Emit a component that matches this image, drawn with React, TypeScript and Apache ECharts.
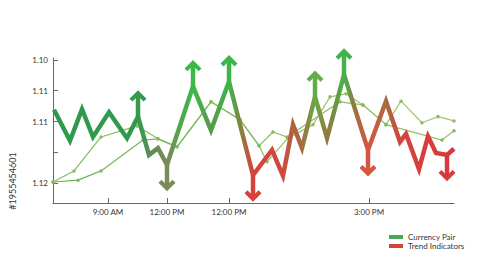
import React, { useEffect, useRef } from "react";
import * as echarts from "echarts";

// ---- data ----
const timeTicks = [55, 114, 176, 316];
const timeLabels = ["9:00 AM", "12:00 PM", "12:00 PM", "3:00 PM"];
const rateTicks = [1.1, 1.105, 1.11, 1.115, 1.12];
const rateLabels = ["1.10", "1.11", "1.11", "", "1.12"];

const pairTimes = [1, 17, 29, 40, 56, 74, 85, 96, 105, 114, 140, 158, 176, 200, 219, 230, 240, 249, 262, 274, 291, 315, 333, 347, 353, 366, 375, 383, 394, 401];
const pairRates = [1.1081, 1.1131, 1.108, 1.1125, 1.1085, 1.1127, 1.1092, 1.1154, 1.1143, 1.117, 1.1043, 1.1114, 1.1035, 1.1187, 1.1146, 1.1188, 1.1105, 1.1143, 1.106, 1.1127, 1.1024, 1.1146, 1.1067, 1.1133, 1.112, 1.1177, 1.1124, 1.1151, 1.1154, 1.1144];

const trendATimes = [0, 21, 48, 84, 105, 124, 158, 187, 206, 214, 235, 260, 277, 293, 310, 333, 348, 369, 385, 401];
const trendARates = [1.1198, 1.118, 1.1125, 1.1107, 1.1128, 1.1141, 1.1068, 1.1097, 1.1139, 1.1165, 1.1127, 1.1105, 1.106, 1.1055, 1.1073, 1.1105, 1.1067, 1.1102, 1.1092, 1.1099];

const trendBTimes = [0, 25, 48, 90, 105, 124, 158, 187, 206, 220, 234, 287, 310, 333, 389, 401];
const trendBRates = [1.1198, 1.1195, 1.118, 1.113, 1.1128, 1.1141, 1.1068, 1.1097, 1.1139, 1.1117, 1.1125, 1.1068, 1.1073, 1.1105, 1.113, 1.1115];

const upSignalTimes = [85, 140, 176, 262, 291];
const downSignalTimes = [114, 200, 315, 394];

// ---- styling ----
const pairStops: [number, string][] = [
  [0, "#2f9a4c"], [84, "#2f9a4c"], [96, "#5a8f55"], [114, "#7a8a58"], [128, "#4fa84b"],
  [140, "#3cb84a"], [158, "#5a9a4a"], [176, "#3cb54a"], [188, "#8a8040"], [200, "#d8413a"],
  [230, "#d04a3a"], [240, "#b0623e"], [249, "#a86a40"], [262, "#64ac48"], [274, "#98763f"],
  [291, "#42b44a"], [303, "#a0703f"], [315, "#d6553f"], [333, "#a86c42"], [347, "#d4453a"],
  [401, "#d8383a"],
];
const T0 = pairTimes[0];
const T1 = pairTimes[pairTimes.length - 1];

function hexToRgb(h: string) {
  const n = parseInt(h.slice(1), 16);
  return [(n >> 16) & 255, (n >> 8) & 255, n & 255];
}
function colorAt(t: number) {
  for (let i = 0; i < pairStops.length - 1; i++) {
    const [a, ca] = pairStops[i];
    const [b, cb] = pairStops[i + 1];
    if (t >= a && t <= b) {
      const f = b === a ? 0 : (t - a) / (b - a);
      const A = hexToRgb(ca), B = hexToRgb(cb);
      const c = A.map((v, k) => Math.round(v + (B[k] - v) * f));
      return `rgb(${c[0]},${c[1]},${c[2]})`;
    }
  }
  return pairStops[pairStops.length - 1][1];
}

export default function App() {
  const ref = useRef<HTMLDivElement>(null);
  useEffect(() => {
    if (!ref.current) return;
    const chart = echarts.init(ref.current, undefined, { renderer: "svg" });
    const font = "Lato, 'Open Sans', sans-serif";
    const pairGradient = new echarts.graphic.LinearGradient(
      0, 0, 1, 0,
      pairStops.map(([t, c]) => ({ offset: Math.max(0, Math.min(1, (t - T0) / (T1 - T0))), color: c }))
    );
    const signalData = [
      ...upSignalTimes.map((t) => [t, pairRates[pairTimes.indexOf(t)], 1]),
      ...downSignalTimes.map((t) => [t, pairRates[pairTimes.indexOf(t)], -1]),
    ];
    chart.setOption({
      animation: false,
      grid: { left: 53, right: 46, top: 58, bottom: 70 },
      xAxis: {
        type: "value",
        min: 0,
        max: 401,
        splitLine: { show: false },
        axisLine: { onZero: false, lineStyle: { color: "#666", width: 1 } },
        axisTick: { inside: true, length: 5, customValues: timeTicks, lineStyle: { color: "#666" } },
        axisLabel: {
          customValues: timeTicks,
          margin: 5,
          fontSize: 8,
          color: "#333",
          fontFamily: font,
          formatter: (v: number) => {
            const i = timeTicks.findIndex((x) => Math.abs(x - v) < 0.5);
            return i >= 0 ? timeLabels[i] : "";
          },
        },
      },
      yAxis: {
        type: "value",
        inverse: true,
        min: 1.0997,
        max: 1.1232,
        splitLine: { show: false },
        axisLine: { show: true, onZero: false, lineStyle: { color: "#666", width: 1 } },
        axisTick: { show: true, inside: true, length: 5, customValues: rateTicks, lineStyle: { color: "#666" } },
        axisLabel: {
          customValues: rateTicks,
          margin: 5,
          fontSize: 8,
          color: "#333",
          fontFamily: font,
          formatter: (v: number) => {
            const i = rateTicks.findIndex((x) => Math.abs(x - v) < 0.0001);
            return i >= 0 ? rateLabels[i] : "";
          },
        },
      },
      legend: {
        orient: "vertical",
        left: 384,
        top: 228,
        itemWidth: 14,
        itemHeight: 4,
        itemGap: 1,
        icon: "rect",
        textStyle: { fontSize: 8, color: "#333", fontFamily: font },
        data: [
          { name: "Currency Pair", itemStyle: { color: "#45a852" } },
          { name: "Trend Indicators", itemStyle: { color: "#d8403a" } },
        ],
      },
      graphic: [
        {
          type: "text",
          x: 12,
          y: 181,
          rotation: Math.PI / 2,
          style: {
            text: "#1955454601",
            fontSize: 9,
            fill: "#333",
            fontFamily: font,
            align: "center",
            verticalAlign: "middle",
          },
        },
      ],
      series: [
        {
          name: "Trend A",
          type: "line",
          data: trendATimes.map((t, i) => [t, trendARates[i]]),
          symbol: "circle",
          symbolSize: 3.5,
          showAllSymbol: true,
          lineStyle: {
            width: 1.2,
            color: new echarts.graphic.LinearGradient(0, 0, 1, 0, [
              { offset: 0, color: "#7cbc5f" },
              { offset: 1, color: "#a9c66f" },
            ]),
          },
          itemStyle: { color: "#8fbf64" },
          z: 2,
        },
        {
          name: "Trend B",
          type: "line",
          data: trendBTimes.map((t, i) => [t, trendBRates[i]]),
          symbol: "circle",
          symbolSize: 3.5,
          showAllSymbol: true,
          lineStyle: {
            width: 1.2,
            color: new echarts.graphic.LinearGradient(0, 0, 1, 0, [
              { offset: 0, color: "#6cb458" },
              { offset: 1, color: "#9cc066" },
            ]),
          },
          itemStyle: { color: "#84b95e" },
          z: 2,
        },
        {
          name: "Currency Pair",
          type: "line",
          data: pairTimes.map((t, i) => [t, pairRates[i]]),
          showSymbol: false,
          lineStyle: { width: 4.5, color: pairGradient, join: "miter", miterLimit: 6, cap: "butt" },
          itemStyle: { color: "#45a852" },
          z: 4,
        },
        {
          name: "Trend Indicators",
          type: "custom",
          data: signalData,
          encode: { x: 0, y: 1 },
          clip: false,
          z: 5,
          itemStyle: { color: "#d8403a" },
          renderItem: (params: any, api: any) => {
            const t = api.value(0);
            const dir = api.value(2);
            const p = api.coord([t, api.value(1)]);
            const color = colorAt(t);
            const tipY = p[1] - dir * 24;
            return {
              type: "group",
              children: [
                {
                  type: "line",
                  shape: { x1: p[0], y1: p[1], x2: p[0], y2: tipY + dir * 2 },
                  style: { stroke: color, lineWidth: 4.5 },
                },
                {
                  type: "polyline",
                  shape: {
                    points: [
                      [p[0] - 7, tipY + dir * 7.5],
                      [p[0], tipY + dir * 0.5],
                      [p[0] + 7, tipY + dir * 7.5],
                    ],
                  },
                  style: { stroke: color, lineWidth: 4.2, fill: null, lineJoin: "miter", miterLimit: 10 },
                },
              ],
            };
          },
        },
      ],
    });
    return () => chart.dispose();
  }, []);
  return (
    <div
      ref={ref}
      style={{ position: "fixed", left: 0, top: 0, width: 500, height: 273, background: "#fff" }}
    />
  );
}
